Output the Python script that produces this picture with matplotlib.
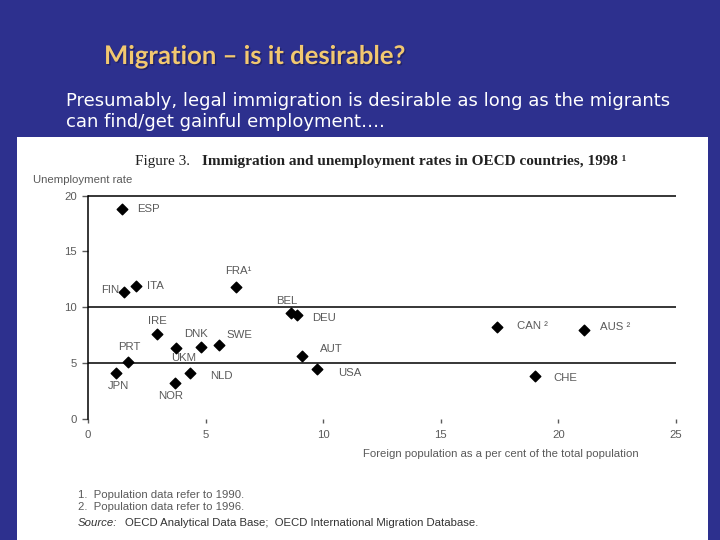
import matplotlib.pyplot as plt
import matplotlib.patheffects as pe
from matplotlib.patches import Rectangle

# Data: foreign population (% of total) vs unemployment rate
countries = ['ESP', 'FIN', 'ITA', 'FRA¹', 'BEL', 'DEU', 'IRE', 'DNK', 'UKM', 'SWE',
             'PRT', 'JPN', 'NLD', 'NOR', 'AUT', 'USA', 'CAN ²', 'AUS ²', 'CHE']
foreign_pop = [1.45, 1.55, 2.05, 6.3, 8.65, 8.9, 2.95, 4.8, 3.75, 5.55,
               1.7, 1.2, 4.35, 3.7, 9.1, 9.75, 17.4, 21.1, 19.0]
unemployment = [18.8, 11.4, 11.9, 11.8, 9.5, 9.3, 7.6, 6.4, 6.3, 6.6,
                5.1, 4.1, 4.1, 3.2, 5.6, 4.5, 8.2, 8.0, 3.8]

x_ticks = [0, 5, 10, 15, 20, 25]
y_ticks = [0, 5, 10, 15, 20]
ref_lines = [5, 10, 20]

# label offsets in points (dx, dy, ha, va)
offsets = {
    'ESP': (11, 0, 'left', 'center'), 'FIN': (-4, 1, 'right', 'center'),
    'ITA': (8, 0, 'left', 'center'), 'FRA¹': (-8, 8, 'left', 'bottom'),
    'BEL': (-11, 5, 'left', 'bottom'), 'DEU': (11, -2, 'left', 'center'),
    'IRE': (-7, 6, 'left', 'bottom'), 'DNK': (-12, 6, 'left', 'bottom'),
    'UKM': (-4, -3, 'left', 'top'), 'SWE': (6, 4, 'left', 'bottom'),
    'PRT': (-7, 7, 'left', 'bottom'), 'JPN': (-6, -6, 'left', 'top'),
    'NLD': (14, -2, 'left', 'center'), 'NOR': (-12, -6, 'left', 'top'),
    'AUT': (13, 5, 'left', 'center'), 'USA': (15, -3, 'left', 'center'),
    'CAN ²': (14, 1, 'left', 'center'), 'AUS ²': (11, 2, 'left', 'center'),
    'CHE': (13, -1, 'left', 'center'),
}

grey = '#5a5a5a'
fs = 8.2
fig = plt.figure(figsize=(7.2, 5.4), dpi=100, facecolor='#2d308e')

# white panel holding the scanned figure
fig.patches.append(Rectangle((17 / 720, 0), 691 / 720, 1 - 137 / 540,
                             transform=fig.transFigure, facecolor='white',
                             edgecolor='none', zorder=-5))

fig.text(104 / 720, 1 - 64 / 540, 'Migration – is it desirable?', fontsize=18.5,
         fontfamily='Lato', fontweight='bold', color='#f2c870', va='baseline',
         path_effects=[pe.withSimplePatchShadow(offset=(1, -1), shadow_rgbFace='#1a1a50', alpha=0.6)])
subtitle = ['Presumably, legal immigration is desirable as long as the migrants',
            'can find/get gainful employment….']
for i, line in enumerate(subtitle):
    fig.text(66 / 720, 1 - (106 + 21 * i) / 540, line, fontsize=13,
             fontfamily='DejaVu Sans', color='white', va='baseline')

ax = fig.add_axes([88 / 720, 1 - 418.7 / 540, 588 / 720, 223 / 540])
ax.set_zorder(2)
ax.set_facecolor('none')
ax.scatter(foreign_pop, unemployment, marker='D', s=29, color='black', zorder=3)
for name, xv, yv in zip(countries, foreign_pop, unemployment):
    dx, dy, ha, va = offsets[name]
    ax.annotate(name, (xv, yv), xytext=(dx, dy), textcoords='offset points',
                ha=ha, va=va, fontsize=fs, fontfamily='Liberation Sans', color=grey)

ax.hlines(ref_lines, 0, 25, color='black', linewidth=1.1, clip_on=False)
ax.set_xlim(0, 25)
ax.set_ylim(0, 20)
ax.set_xticks(x_ticks)
ax.set_yticks(y_ticks)
for side in ['top', 'right', 'bottom']:
    ax.spines[side].set_visible(False)
ax.spines['left'].set_linewidth(1.1)
ax.tick_params(axis='y', length=4, width=1, labelsize=fs, colors=grey, pad=4)
ax.tick_params(axis='x', length=3, width=1, labelsize=fs, colors=grey, pad=5)
for lab in ax.get_xticklabels() + ax.get_yticklabels():
    lab.set_fontfamily('Liberation Sans')

fig.text(135 / 720, 1 - 165 / 540, 'Figure 3.', fontsize=11,
         fontfamily='Liberation Serif', color='#222222', va='baseline')
fig.text(202 / 720, 1 - 165 / 540,
         'Immigration and unemployment rates in OECD countries, 1998 ¹',
         fontsize=11, fontfamily='Liberation Serif', fontweight='bold',
         color='#222222', va='baseline')
fig.text(33 / 720, 1 - 183 / 540, 'Unemployment rate', fontsize=fs,
         fontfamily='Liberation Sans', color=grey, va='baseline')
fig.text(363 / 720, 1 - 457 / 540,
         'Foreign population as a per cent of the total population',
         fontsize=fs, fontfamily='Liberation Sans', color=grey, va='baseline')

notes = ['1.  Population data refer to 1990.', '2.  Population data refer to 1996.']
for i, note in enumerate(notes):
    fig.text(78 / 720, 1 - (498 + 12 * i) / 540, note, fontsize=fs,
             fontfamily='Liberation Sans', color=grey, va='baseline')
fig.text(78 / 720, 1 - 526 / 540, 'Source:', fontsize=8.2, fontstyle='italic',
         fontfamily='Liberation Sans', color='#333333', va='baseline')
fig.text(125 / 720, 1 - 526 / 540,
         'OECD Analytical Data Base;  OECD International Migration Database.',
         fontsize=8.2, fontfamily='Liberation Sans', color='#333333', va='baseline')

fig.savefig('out.png', dpi=100, facecolor=fig.get_facecolor())
